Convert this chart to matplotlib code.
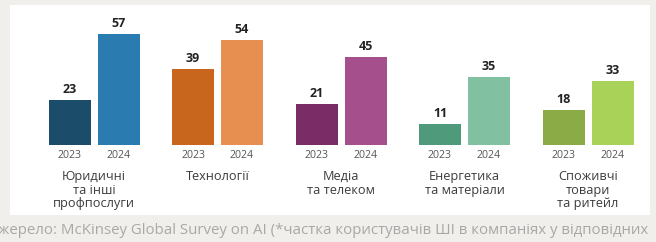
import matplotlib
matplotlib.use("Agg")
import matplotlib.pyplot as plt
from matplotlib.patches import Rectangle

categories = ["Юридичні\nта інші\nпрофпослуги", "Технології", "Медіа\nта телеком",
              "Енергетика\nта матеріали", "Споживчі\nтовари\nта ритейл"]
years = ["2023", "2024"]
values_2023 = [23, 39, 21, 11, 18]
values_2024 = [57, 54, 45, 35, 33]
colors_2023 = ["#1b4d6b", "#c9661e", "#7a2c66", "#4f9a7a", "#8aab46"]
colors_2024 = ["#2a7bb0", "#e78f51", "#a5508d", "#82c0a2", "#a9d258"]
source = "Джерело: McKinsey Global Survey on AI (*частка користувачів ШІ в компаніях у відповідних"

W, H = 656, 242
fig = plt.figure(figsize=(W / 100, H / 100), dpi=100)
fig.patch.set_facecolor("#f1efeb")
fig.patches.append(Rectangle((10 / W, 1 - 215 / H), 640 / W, 210 / H,
                             transform=fig.transFigure, facecolor="white",
                             edgecolor="none", zorder=-5))

font = "Open Sans"
unit = 123.5
x0 = 94
base_y = 145
ppu = 1.947
ax = fig.add_axes([0, (H - base_y) / H, 1, 60 * ppu / H], zorder=2)
ax.set_xlim(-x0 / unit, (W - x0) / unit)
ax.set_ylim(0, 60)
ax.axis("off")
ax.patch.set_alpha(0)

bw = 42 / unit
off = 24.5 / unit
for i, cat in enumerate(categories):
    for v, c, dx, yr in [(values_2023[i], colors_2023[i], -off, years[0]),
                         (values_2024[i], colors_2024[i], off, years[1])]:
        ax.bar(i + dx, v, width=bw, color=c, zorder=2)
        ax.text(i + dx, v + 2.0, str(v), ha="center", va="bottom",
                fontsize=9, fontweight="bold", color="#222222", family=font)
        ax.annotate(yr, xy=(i + dx, 0), xytext=(0, -11), textcoords="offset pixels",
                    ha="center", va="center", fontsize=7.6, color="#555555", family=font,
                    annotation_clip=False)
    ax.annotate(cat, xy=(i, 0), xytext=(0, -25), textcoords="offset pixels",
                ha="center", va="top", fontsize=9.2, color="#3c3c3c", family=font,
                linespacing=1.06, annotation_clip=False)

fig.text(-12 / W, 1 - 230 / H, source, ha="left", va="center", fontsize=10.8,
         color="#a8a8a8", family=font)

fig.savefig("out.png", dpi=100, facecolor=fig.get_facecolor())
